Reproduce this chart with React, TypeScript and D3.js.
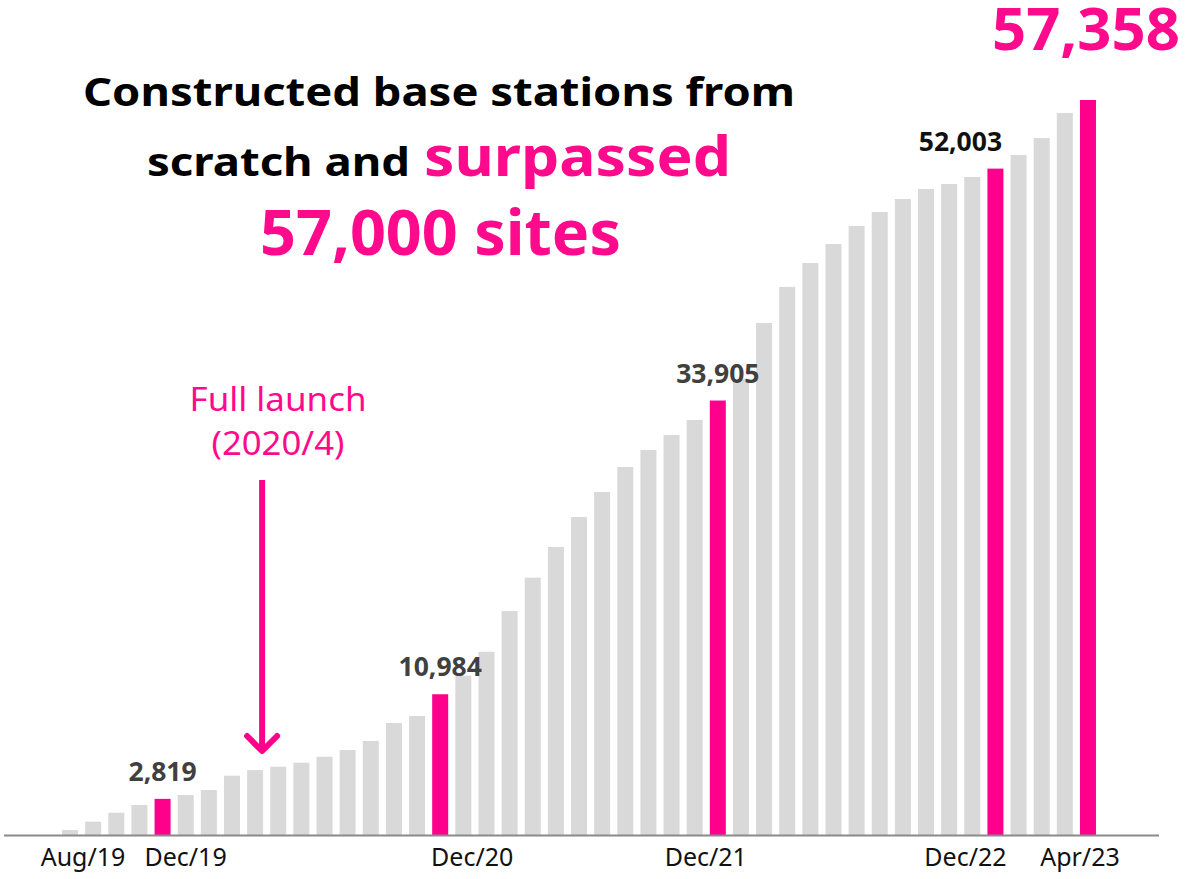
import React from "react";
import * as d3 from "d3";

const months = [
  "Aug/19", "Sep/19", "Oct/19", "Nov/19", "Dec/19",
  "Jan/20", "Feb/20", "Mar/20", "Apr/20", "May/20", "Jun/20", "Jul/20", "Aug/20", "Sep/20", "Oct/20", "Nov/20", "Dec/20",
  "Jan/21", "Feb/21", "Mar/21", "Apr/21", "May/21", "Jun/21", "Jul/21", "Aug/21", "Sep/21", "Oct/21", "Nov/21", "Dec/21",
  "Jan/22", "Feb/22", "Mar/22", "Apr/22", "May/22", "Jun/22", "Jul/22", "Aug/22", "Sep/22", "Oct/22", "Nov/22", "Dec/22",
  "Jan/23", "Feb/23", "Mar/23", "Apr/23",
];

const sites = [
  390, 1040, 1740, 2340, 2819,
  3120, 3510, 4630, 5070, 5330, 5640, 6110, 6630, 7340, 8740, 9290, 10984,
  12430, 14300, 17480, 20080, 22480, 24820, 26770, 28720, 30050, 31220, 32390, 33905,
  35600, 39960, 42770, 44640, 46120, 47530, 48620, 49630, 50410, 50800, 51350, 52003,
  53070, 54390, 56340, 57358,
];

const highlighted = ["Dec/19", "Dec/20", "Dec/21", "Dec/22", "Apr/23"];
const axisLabels = ["Aug/19", "Dec/19", "Dec/20", "Dec/21", "Dec/22", "Apr/23"];
const axisLabelShift = [13, 23, 32, -12, -30, -8];
const valueLabels = ["Dec/19", "Dec/20", "Dec/21", "Dec/22"];
const launchMonth = "Apr/20";

const PINK = "#ff0a8c";
const BAR_PINK = "#ff008c";
const GRAY = "#d9d9d9";
const FONT = "'Noto Sans', 'Open Sans', Arial, sans-serif";

export default function App() {
  const W = 1188;
  const H = 879;
  const x = d3.scaleBand<string>().domain(months).range([50, 1108]).paddingInner(0.308).paddingOuter(0.52);
  const y = d3.scaleLinear().domain([0, d3.max(sites) as number]).range([835, 100]);
  const fmt = d3.format(",");
  const cx = (m: string) => (x(m) as number) + x.bandwidth() / 2;
  const val = (m: string) => sites[months.indexOf(m)];
  const last = months[months.length - 1];
  const ax = cx(launchMonth) + 7;

  return (
    <div style={{ position: "absolute", left: 0, top: 0 }}>
      <svg width={W} height={H} style={{ display: "block" }} fontFamily={FONT}>
        <rect width={W} height={H} fill="#fff" />
        {months.map((m, i) => (
          <rect
            key={m}
            x={x(m)}
            y={y(sites[i])}
            width={x.bandwidth()}
            height={y(0) - y(sites[i])}
            fill={highlighted.includes(m) ? BAR_PINK : GRAY}
          />
        ))}
        <line x1={4} x2={1159} y1={835.5} y2={835.5} stroke="#8a8a8a" strokeWidth={2} />

        {axisLabels.map((m, i) => (
          <text key={m} x={cx(m) + axisLabelShift[i]} y={866} textAnchor="middle" fontSize={25} fill="#111">
            {m}
          </text>
        ))}

        {valueLabels.map((m) => (
          <text
            key={m}
            x={m === "Dec/22" ? cx(m) - 35 : cx(m)}
            y={y(val(m)) - 18}
            textAnchor="middle"
            fontSize={26.5}
            fontWeight={700}
            fill={m === "Dec/22" ? "#111" : "#404040"}
          >
            {fmt(val(m))}
          </text>
        ))}
        <text x={cx(last) - 2} y={50} textAnchor="middle" fontSize={60} fontWeight={700} fill={PINK} textLength={188} lengthAdjust="spacingAndGlyphs">
          {fmt(val(last))}
        </text>

        <text x={83} y={106} fontSize={40} fontWeight={700} fill="#000" textLength={712} lengthAdjust="spacingAndGlyphs">
          Constructed base stations from
        </text>
        <text x={147} y={176} fontSize={40} fontWeight={700} fill="#000" textLength={263} lengthAdjust="spacingAndGlyphs">
          scratch and
        </text>
        <text x={424} y={176} fontSize={56} fontWeight={700} fill={PINK} textLength={307} lengthAdjust="spacingAndGlyphs">
          surpassed
        </text>
        <text x={260} y={255} fontSize={62} fontWeight={700} fill={PINK} textLength={361} lengthAdjust="spacingAndGlyphs">
          57,000 sites
        </text>

        <text x={278} y={411} textAnchor="middle" fontSize={32} fill={PINK} textLength={177} lengthAdjust="spacingAndGlyphs">
          Full launch
        </text>
        <text x={278} y={455} textAnchor="middle" fontSize={32} fill={PINK} textLength={133} lengthAdjust="spacingAndGlyphs">
          (2020/4)
        </text>
        <line x1={ax} x2={ax} y1={480} y2={750} stroke={BAR_PINK} strokeWidth={6} />
        <polyline
          points={`${ax - 15},${736} ${ax},${751} ${ax + 15},${736}`}
          fill="none"
          stroke={BAR_PINK}
          strokeWidth={6}
          strokeLinecap="round"
          strokeLinejoin="round"
        />
      </svg>
    </div>
  );
}
